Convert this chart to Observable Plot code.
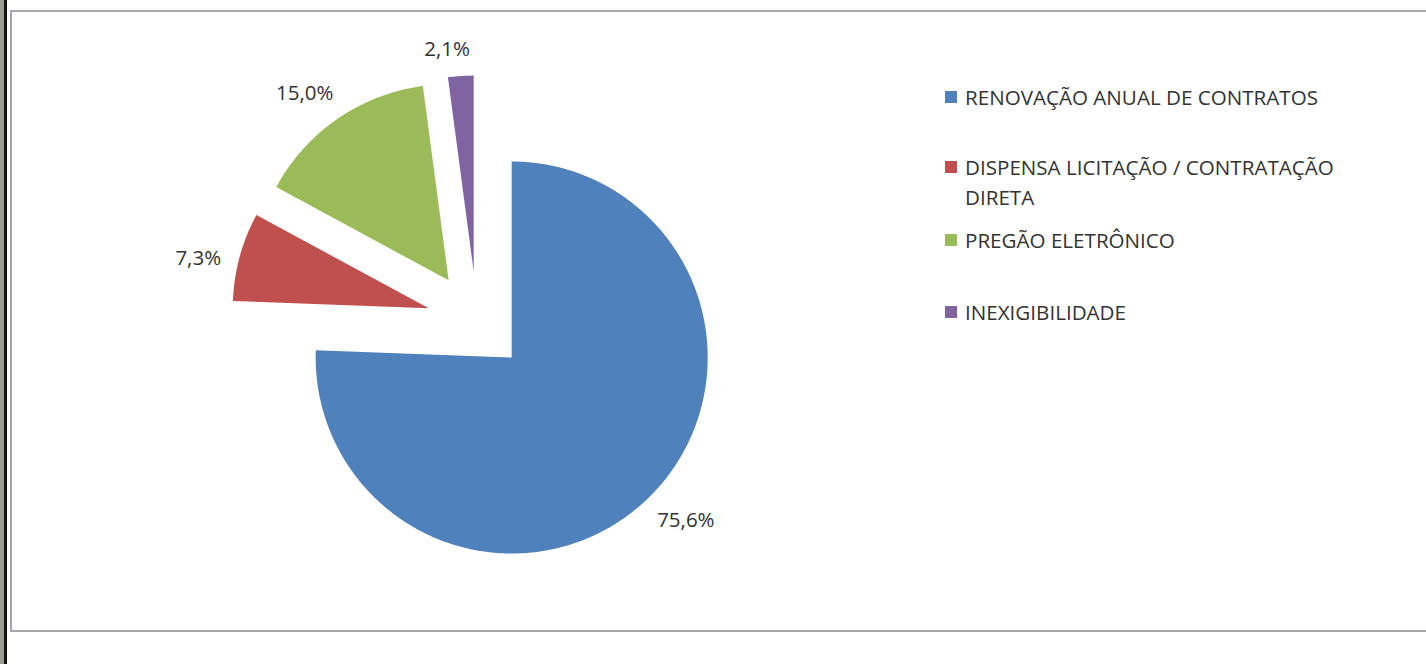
<!DOCTYPE html>
<html>
<head>
<meta charset="utf-8">
<script src="https://cdn.jsdelivr.net/npm/d3@7"></script>
<script src="https://cdn.jsdelivr.net/npm/@observablehq/plot@0.6"></script>
<style>
  html, body { margin: 0; padding: 0; background: #fff; }
  #wrap { position: relative; width: 1426px; height: 664px; overflow: hidden; font-family: "Open Sans", sans-serif; }
  .deco { position: absolute; }
  #legend { position: absolute; left: 945px; top: 0; color: #333; font-size: 20.6px; }
  .item { position: absolute; left: 0; display: flex; align-items: flex-start; line-height: 30px; white-space: nowrap; }
  .sw { width: 12px; height: 12px; margin-top: 9px; margin-right: 8px; flex: none; }
</style>
</head>
<body>
<div id="wrap"></div>
<script>
// ---- data ----
const categories = [
  "RENOVAÇÃO ANUAL DE CONTRATOS",
  "DISPENSA LICITAÇÃO / CONTRATAÇÃO DIRETA",
  "PREGÃO ELETRÔNICO",
  "INEXIGIBILIDADE"
];
const legendLines = [
  ["RENOVAÇÃO ANUAL DE CONTRATOS"],
  ["DISPENSA LICITAÇÃO / CONTRATAÇÃO", "DIRETA"],
  ["PREGÃO ELETRÔNICO"],
  ["INEXIGIBILIDADE"]
];
const values = [75.6, 7.3, 15.0, 2.1];
const colors = ["#4F81BD", "#C0504D", "#9BBB59", "#8064A2"];

// ---- layout ----
const W = 1426, H = 664;
const cx = 476.5, cy = 321, R = 196;   // pie centre and radius (px)
const explode = 50 / R;                 // explosion, in radius units
const labelGap = 16, labelHH = 10, labelTurn = -2.5 * Math.PI / 180;

const total = d3.sum(values);
let acc = 0;
const slices = values.map((v, i) => {
  const a0 = acc / total * 2 * Math.PI;
  acc += v;
  const a1 = acc / total * 2 * Math.PI;
  return {name: categories[i], value: v, a0, a1, mid: (a0 + a1) / 2};
});

// polygon points for each slice (unit radius, y downwards, angle clockwise from 12 o'clock)
const pts = [];
for (const s of slices) {
  const ox = explode * Math.sin(s.mid), oy = -explode * Math.cos(s.mid);
  pts.push({name: s.name, x: ox, y: oy});
  const n = Math.max(8, Math.ceil((s.a1 - s.a0) / 0.01));
  for (let k = 0; k <= n; k++) {
    const a = s.a0 + (s.a1 - s.a0) * k / n;
    pts.push({name: s.name, x: ox + Math.sin(a), y: oy - Math.cos(a)});
  }
  pts.push({name: s.name, x: ox, y: oy});
}

const fmt = v => v.toFixed(1).replace(".", ",") + "%";
const labels = slices.map(s => {
  const t = fmt(s.value);
  const hw = t.length * 11 / 2;
  const dpx = R + explode * R + labelGap + Math.abs(Math.sin(s.mid)) * hw + Math.abs(Math.cos(s.mid)) * labelHH;
  const d = dpx / R;
  const a = s.mid + labelTurn;
  return {text: t, x: d * Math.sin(a), y: -d * Math.cos(a)};
});

const chart = Plot.plot({
  width: W,
  height: H,
  margin: 0,
  x: {domain: [(0 - cx) / R, (W - cx) / R], range: [0, W], axis: null},
  y: {domain: [(0 - cy) / R, (H - cy) / R], range: [0, H], axis: null},
  color: {domain: categories, range: colors},
  style: {fontFamily: "Open Sans, sans-serif", background: "transparent"},
  marks: [
    Plot.line(pts, {x: "x", y: "y", z: "name", fill: "name", stroke: null, curve: "linear"}),
    Plot.text(labels, {x: "x", y: "y", text: "text", fontSize: 20.5, fill: "#333", textAnchor: "middle"})
  ]
});

const wrap = document.getElementById("wrap");
// frame decorations
const deco = [
  {left: 0, top: 0, width: 4, height: H, bg: "#9c9c8e"},
  {left: 4, top: 0, width: 3, height: H, bg: "#111"},
  {left: 10, top: 10, width: W - 10, height: 2, bg: "#a6a6a6"},
  {left: 10, top: 10, width: 2, height: 622, bg: "#a6a6a6"},
  {left: 10, top: 630, width: W - 10, height: 2, bg: "#a6a6a6"}
];
chart.style.position = "absolute";
chart.style.left = "0px";
chart.style.top = "0px";
wrap.appendChild(chart);
for (const d of deco) {
  const e = document.createElement("div");
  e.className = "deco";
  Object.assign(e.style, {left: d.left + "px", top: d.top + "px", width: d.width + "px", height: d.height + "px", background: d.bg});
  wrap.appendChild(e);
}

// legend
const legendCenters = [97, 167, 240, 312];
const legend = document.createElement("div");
legend.id = "legend";
categories.forEach((c, i) => {
  const it = document.createElement("div");
  it.className = "item";
  it.style.top = (legendCenters[i] - 15) + "px";
  const sw = document.createElement("div");
  sw.className = "sw";
  sw.style.background = colors[i];
  const tx = document.createElement("div");
  tx.innerHTML = legendLines[i].join("<br>");
  it.appendChild(sw);
  it.appendChild(tx);
  legend.appendChild(it);
});
wrap.appendChild(legend);
</script>
</body>
</html>
